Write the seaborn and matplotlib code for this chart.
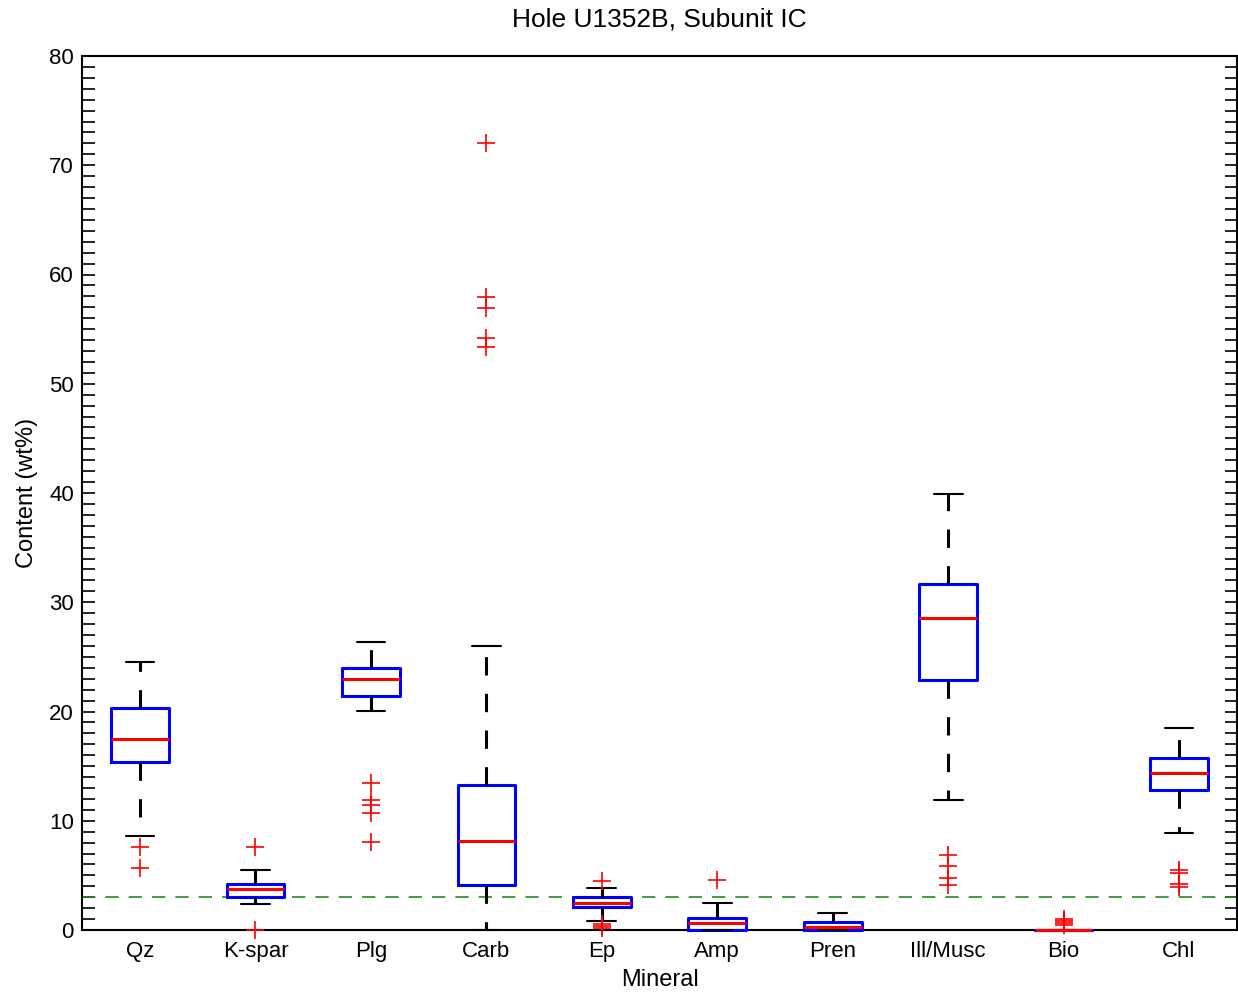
import numpy as np
import pandas as pd
import matplotlib
matplotlib.use("Agg")
import matplotlib.pyplot as plt
from matplotlib.ticker import MultipleLocator
import seaborn as sns

# Mineral categories and box statistics (wt%)
minerals = ["Qz", "K-spar", "Plg", "Carb", "Ep", "Amp", "Pren", "Ill/Musc", "Bio", "Chl"]
whisker_low = [8.6, 2.4, 20.05, 0.0, 0.82, 0.0, 0.0, 11.9, 0.0, 8.9]
q1 = [15.35, 3.05, 21.45, 4.15, 2.14, 0.0, 0.0, 22.85, 0.0, 12.8]
median = [17.45, 3.75, 22.95, 8.15, 2.44, 0.61, 0.3, 28.6, 0.0, 14.4]
q3 = [20.3, 4.2, 23.95, 13.27, 3.05, 1.07, 0.7, 31.63, 0.0, 15.77]
whisker_high = [24.5, 5.46, 26.4, 26.0, 3.81, 2.5, 1.55, 39.95, 0.0, 18.52]

# Outliers per mineral
outliers = {
    "Qz": [7.6, 5.65],
    "K-spar": [7.62, 0.0],
    "Plg": [13.5, 11.9, 11.45, 10.75, 8.05],
    "Carb": [72.05, 57.95, 56.95, 54.15, 53.4],
    "Ep": [4.52, 0.52, 0.37, 0.2],
    "Amp": [4.58],
    "Pren": [],
    "Ill/Musc": [6.83, 5.9, 4.8, 4.15],
    "Bio": [1.0, 0.8, 0.65, 0.5],
    "Chl": [5.5, 5.2, 4.2, 3.95],
}

reference_level = 3.0

sns.set_theme(style="white")
plt.rcParams["font.family"] = ["Liberation Sans", "DejaVu Sans"]
plt.rcParams["text.color"] = "black"
plt.rcParams["axes.labelcolor"] = "black"
plt.rcParams["xtick.color"] = "black"
plt.rcParams["ytick.color"] = "black"

fig = plt.figure(figsize=(12.38, 10), dpi=100)
ax = fig.add_axes([0.0665, 0.07, 0.9325, 0.874])

positions = np.arange(1, len(minerals) + 1)
stats = []
for i, name in enumerate(minerals):
    stats.append(dict(label=name, whislo=whisker_low[i], q1=q1[i], med=median[i],
                      q3=q3[i], whishi=whisker_high[i], fliers=[]))

parts = ax.bxp(stats, positions=positions, widths=0.5, showfliers=False,
               boxprops=dict(color="#0000ff", linewidth=2.2),
               medianprops=dict(color="#ff0000", linewidth=2.2),
               whiskerprops=dict(color="black", linewidth=2.2, linestyle=(0, (6, 6))),
               capprops=dict(color="black", linewidth=1.5),
               capwidths=0.25, manage_ticks=False, zorder=3)
for key in ("boxes", "medians", "whiskers", "caps"):
    for artist in parts[key]:
        artist.set_clip_on(False)
for artist in parts["medians"]:
    artist.set_zorder(3.5)

# Outlier markers
fl_x, fl_y = [], []
for i, name in enumerate(minerals):
    for v in outliers[name]:
        fl_x.append(positions[i])
        fl_y.append(v)
fl = pd.DataFrame({"x": fl_x, "y": fl_y})
sns.scatterplot(data=fl, x="x", y="y", marker="+", color="#ff0000", s=170,
                linewidth=1.2, ax=ax, zorder=4, clip_on=False, legend=False)

ax.axhline(reference_level, color="#228b22", linewidth=1.2, linestyle=(0, (8, 6)), zorder=2)

ax.set_xlim(0.5, 10.5)
ax.set_ylim(0, 80)
ax.set_xticks(positions)
ax.set_xticklabels(minerals)
ax.yaxis.set_major_locator(MultipleLocator(10))
ax.yaxis.set_minor_locator(MultipleLocator(1))
ax.tick_params(axis="y", which="both", direction="in", left=True, right=True,
               length=9, width=1.2, color="black", labelsize=16, pad=6)
ax.tick_params(axis="x", which="both", length=0, labelsize=16, pad=8)
for side in ["left", "right", "top", "bottom"]:
    ax.spines[side].set_visible(True)
    ax.spines[side].set_color("black")
    ax.spines[side].set_linewidth(1.5)

ax.set_xlabel("Mineral", fontsize=17, labelpad=5)
ax.set_ylabel("Content (wt%)", fontsize=17, labelpad=8)
ax.set_title("Hole U1352B, Subunit IC", fontsize=19, pad=21)

fig.savefig("out.png", dpi=100, facecolor="white")
